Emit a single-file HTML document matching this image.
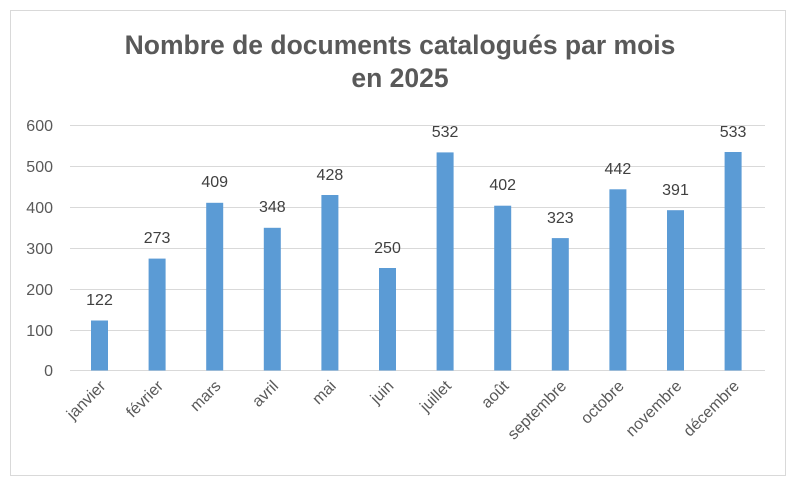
<!DOCTYPE html>
<html><head><meta charset="utf-8"><style>
body{margin:0;background:#fff;}
svg{display:block;font-family:"Liberation Sans",sans-serif;}
</style></head><body>
<svg width="800" height="486" viewBox="0 0 800 486">
<rect x="10.5" y="10.5" width="775" height="465" fill="#fff" stroke="#d9d9d9"/>
<text x="400" y="54" text-anchor="middle" font-size="26.5" font-weight="bold" fill="#595959">Nombre de documents catalogués par mois</text>
<text x="400" y="87" text-anchor="middle" font-size="26.5" font-weight="bold" fill="#595959">en 2025</text>
<g stroke="#d9d9d9" stroke-width="1">
<line x1="70" x2="765" y1="125.5" y2="125.5"/>
<line x1="70" x2="765" y1="166.5" y2="166.5"/>
<line x1="70" x2="765" y1="207.5" y2="207.5"/>
<line x1="70" x2="765" y1="248.5" y2="248.5"/>
<line x1="70" x2="765" y1="289.5" y2="289.5"/>
<line x1="70" x2="765" y1="330.5" y2="330.5"/>
<line x1="70" x2="765" y1="370.5" y2="370.5"/>
</g>
<g font-size="16" fill="#595959" text-anchor="end">
<text x="53" y="131">600</text><text x="53" y="172">500</text><text x="53" y="213">400</text>
<text x="53" y="254">300</text><text x="53" y="295">200</text><text x="53" y="336">100</text><text x="53" y="376">0</text>
</g>
<g fill="#5b9bd5">
<rect x="91" y="320.5" width="17" height="50"/>
<rect x="148.6" y="258.6" width="17" height="111.9"/>
<rect x="206.2" y="202.8" width="17" height="167.7"/>
<rect x="263.8" y="227.8" width="17" height="142.7"/>
<rect x="321.4" y="195" width="17" height="175.5"/>
<rect x="379" y="268" width="17" height="102.5"/>
<rect x="436.6" y="152.4" width="17" height="218.1"/>
<rect x="494.2" y="205.7" width="17" height="164.8"/>
<rect x="551.8" y="238.1" width="17" height="132.4"/>
<rect x="609.4" y="189.3" width="17" height="181.2"/>
<rect x="667" y="210.2" width="17" height="160.3"/>
<rect x="724.6" y="152" width="17" height="218.5"/>
</g>
<g font-size="16" fill="#404040" text-anchor="middle">
<text x="99.5" y="305">122</text>
<text x="157.1" y="243">273</text>
<text x="214.7" y="187">409</text>
<text x="272.3" y="212">348</text>
<text x="329.9" y="180">428</text>
<text x="387.5" y="253">250</text>
<text x="445.1" y="137">532</text>
<text x="502.7" y="190">402</text>
<text x="560.3" y="223">323</text>
<text x="617.9" y="174">442</text>
<text x="675.5" y="195">391</text>
<text x="733.1" y="137">533</text>
</g>
<g font-size="16" fill="#595959" text-anchor="end">
<text transform="translate(106.5,387) rotate(-45)">janvier</text>
<text transform="translate(164.1,387) rotate(-45)">février</text>
<text transform="translate(221.7,387) rotate(-45)">mars</text>
<text transform="translate(279.3,387) rotate(-45)">avril</text>
<text transform="translate(336.9,387) rotate(-45)">mai</text>
<text transform="translate(394.5,387) rotate(-45)">juin</text>
<text transform="translate(452.1,387) rotate(-45)">juillet</text>
<text transform="translate(509.7,387) rotate(-45)">août</text>
<text transform="translate(567.3,387) rotate(-45)">septembre</text>
<text transform="translate(624.9,387) rotate(-45)">octobre</text>
<text transform="translate(682.5,387) rotate(-45)">novembre</text>
<text transform="translate(740.1,387) rotate(-45)">décembre</text>
</g>
</svg>
</body></html>
